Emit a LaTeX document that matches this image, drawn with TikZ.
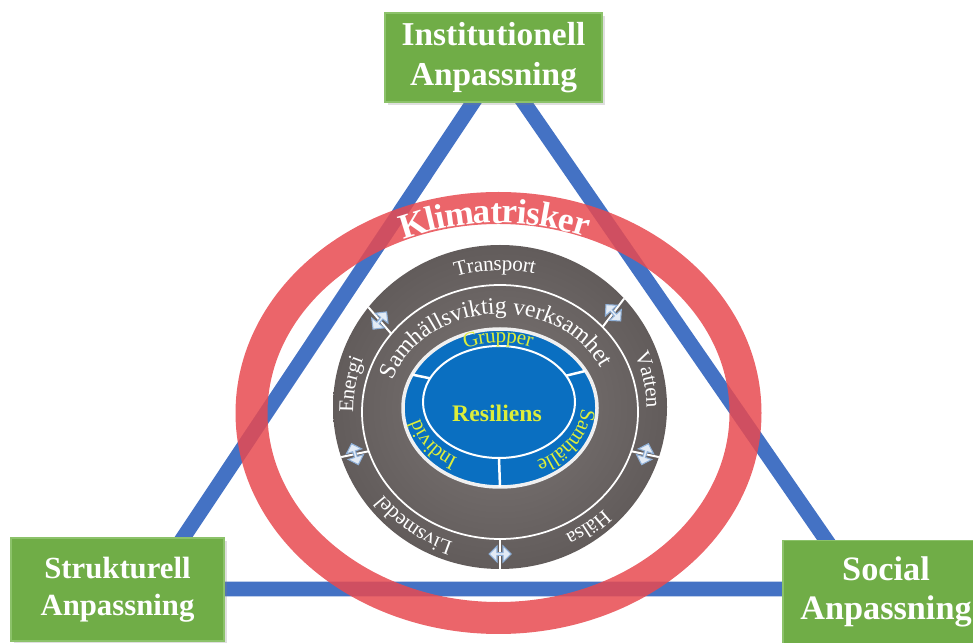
\documentclass[tikz,border=0pt]{standalone}
\usepackage{fontspec}
\setmainfont{Liberation Serif}
\usetikzlibrary{decorations.text, shapes.arrows, shadows}

\definecolor{adaptgreen}{HTML}{70AD47}
\definecolor{adaptedge}{HTML}{8CC26A}
\definecolor{triblue}{HTML}{4472C4}
\definecolor{riskred}{HTML}{E84A50}
\definecolor{sectorgray}{HTML}{7D7776}
\definecolor{sectorgraydark}{HTML}{625C5B}
\definecolor{coreblue}{HTML}{0A6FC1}
\definecolor{coreyellow}{HTML}{DDEE3A}
\definecolor{arrowblue}{HTML}{8FB0D8}

\newcommand\riskfont{\fontsize{20}{24}\selectfont\bfseries}
\newcommand\sectorfont{\fontsize{12}{14}\selectfont}
\newcommand\samfont{\fontsize{13.5}{15}\selectfont}
\newcommand\groupfont{\fontsize{12}{14}\selectfont}

\tikzset{
  adapt/.style={fill=adaptgreen, draw=adaptedge, line width=1pt, text=white, align=center,
    drop shadow={opacity=0.25, shadow xshift=1.5pt, shadow yshift=-1.5pt}},
  triline/.style={draw=triblue, line width=0.3cm, line join=miter},
  riskring/.style={draw=riskred, draw opacity=0.85, line width=0.64cm},
  bandtext/.style={decorate, decoration={text along path, text color=white, text align=center, raise=-3pt}},
  linkarrow/.style={double arrow, draw=arrowblue, fill=white!75!arrowblue, line width=0.6pt, inner sep=0pt,
    minimum height=0.44cm, minimum width=0.32cm, double arrow head extend=0.05cm}
}

\begin{document}
\begin{tikzpicture}[x=0.02cm, y=0.02cm]
\useasboundingbox (0,0) rectangle (973,642);
\clip (0,0) rectangle (973,642);

% triangle between the three kinds of adaptation
\coordinate (apex) at (498,577);
\coordinate (leftcorner) at (149,53);
\coordinate (rightcorner) at (860,53);
\draw[triline] (apex) -- (leftcorner) -- (rightcorner) -- cycle;

% climate risk ring
\draw[riskring] (498.5,229) ellipse [x radius=247, y radius=205];
\path[decorate, decoration={text along path, text color=white, text align=center, raise=-0.3cm,
    text={|\riskfont|Klimatrisker}}]
  ([shift={(498.5,229)}]132:247 and 205) arc [start angle=132, end angle=50, x radius=247, y radius=205];

% boxes
\node[adapt, minimum width=4.34cm, minimum height=1.78cm, font={\fontsize{19}{22.7}\selectfont\bfseries}]
  (institutionell) at (493.5,584.5) {Institutionell\\Anpassning};
\node[adapt, minimum width=4.26cm, minimum height=2.06cm, font={\fontsize{17.5}{21}\selectfont\bfseries}]
  (strukturell) at (117.5,52.5) {Strukturell\\Anpassning};
\node[adapt, minimum width=4.12cm, minimum height=2.06cm, font={\fontsize{19.5}{22}\selectfont\bfseries}]
  (social) at (886,50) {Social\\Anpassning};

% grey disk with the sectors
\shade[inner color=sectorgray, outer color=sectorgraydark] (500,235) ellipse [x radius=167, y radius=162];
\draw[white, line width=0.035cm] (500,230) ellipse [x radius=138, y radius=127];
\foreach \a in {142,42,-18,-90,198} {
  \draw[white, line width=0.04cm] ([shift={(500,230)}]\a:138 and 127) -- ([shift={(500,235)}]\a:167 and 162);
  \node[linkarrow, rotate=\a+90] at ([shift={(500,232.5)}]\a:152.5 and 144.5) {};
}

\path[bandtext, decoration={text={|\sectorfont|Transport}}]
  ([shift={(500,232)}]142:152 and 145) arc [start angle=142, end angle=42, x radius=152, y radius=145];
\path[bandtext, decoration={text={|\sectorfont|Vatten}}]
  ([shift={(500,232)}]42:152 and 145) arc [start angle=42, end angle=-18, x radius=152, y radius=145];
\path[bandtext, decoration={text={|\sectorfont|Hälsa}}]
  ([shift={(500,232)}]-18:152 and 145) arc [start angle=-18, end angle=-90, x radius=152, y radius=145];
\path[bandtext, decoration={text={|\sectorfont|Livsmedel}}]
  ([shift={(500,232)}]270:152 and 145) arc [start angle=270, end angle=198, x radius=152, y radius=145];
\path[bandtext, decoration={text={|\sectorfont|Energi}}]
  ([shift={(500,232)}]198:152 and 145) arc [start angle=198, end angle=142, x radius=152, y radius=145];

\path[bandtext, decoration={raise=-1pt, text={|\samfont|Samhällsviktig verksamhet}}]
  ([shift={(500,232)}]180:114 and 98) arc [start angle=180, end angle=8, x radius=114, y radius=98];

% blue core
\fill[coreblue, draw=white!88!gray, line width=0.07cm] (500,234) ellipse [x radius=97, y radius=79];
\draw[white, line width=0.04cm] (499,240) ellipse [x radius=76, y radius=56];
\foreach \a in {155,28,-90}
  \draw[white, line width=0.05cm] ([shift={(499,240)}]\a:76 and 56) -- ([shift={(500,234)}]\a:97 and 79);

\path[bandtext, decoration={text color=coreyellow, text={|\groupfont|Grupper}}]
  ([shift={(500,237)}]155:87 and 68) arc [start angle=155, end angle=28, x radius=87, y radius=68];
\path[bandtext, decoration={text color=coreyellow, text={|\groupfont|Samhälle}}]
  ([shift={(500,237)}]28:87 and 68) arc [start angle=28, end angle=-90, x radius=87, y radius=68];
\path[bandtext, decoration={text color=coreyellow, text={|\groupfont|Individ}}]
  ([shift={(500,237)}]270:87 and 68) arc [start angle=270, end angle=155, x radius=87, y radius=68];

\node[text=coreyellow, font={\fontsize{13.5}{15}\selectfont\bfseries}] (resiliens) at (497,229) {Resiliens};
\end{tikzpicture}
\end{document}
